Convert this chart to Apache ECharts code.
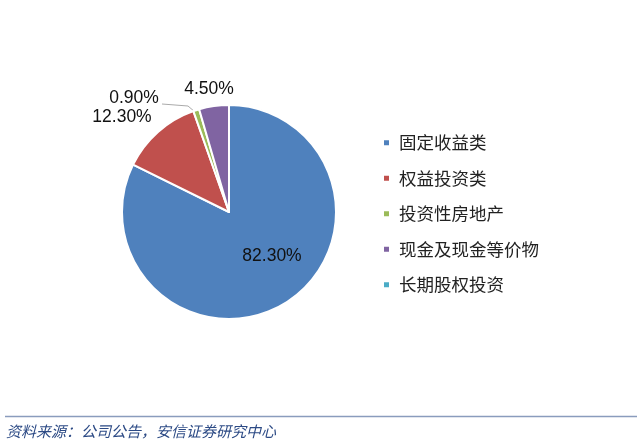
<!DOCTYPE html>
<html>
<head>
<meta charset="utf-8">
<script src="https://cdn.jsdelivr.net/npm/echarts@6/dist/echarts.min.js"></script>
<style>
  html, body { margin: 0; padding: 0; background: #fff; }
  #chart { width: 640px; height: 446px; }
</style>
</head>
<body>
<div id="chart"></div>
<script>
const categories = ['固定收益类', '权益投资类', '投资性房地产', '现金及现金等价物', '长期股权投资']
const shares = [82.3, 12.3, 0.9, 4.5, 0]
const colors = ['#4F81BD', '#C0504D', '#9BBB59', '#8064A2', '#4BACC6']
const sourceNote = '资料来源：公司公告，安信证券研究中心'

// where each percentage label sits (text centre)
const labelSpots = [[272, 256], [122, 117], [134, 98], [209, 89], null]

const chart = echarts.init(document.getElementById('chart'))

const pieData = categories.map((name, i) => {
  let item = { name: name, value: shares[i] }
  if (i === 4) {
    item.label = { show: false }
    item.labelLine = { show: false }
  } else if (i !== 2) {
    item.labelLine = { show: false }
  }
  return item
})

let option = {
  animation: false,
  color: colors,
  legend: {
    orient: 'vertical',
    left: 377,
    top: 129,
    itemWidth: 7,
    itemHeight: 7,
    itemGap: 18,
    icon: 'rect',
    textStyle: {
      fontFamily: 'Noto Sans CJK SC',
      fontSize: 17.5,
      color: '#222',
      padding: [0, 0, 0, 4]
    },
    data: categories
  },
  graphic: [
    {
      type: 'line',
      shape: { x1: 5, y1: 416.5, x2: 637, y2: 416.5 },
      style: { stroke: '#8a9cbd', lineWidth: 1.5 }
    },
    {
      type: 'text',
      left: 6,
      top: 424,
      style: {
        text: sourceNote,
        fontFamily: 'Noto Sans CJK SC',
        fontStyle: 'italic',
        fontSize: 15,
        fill: '#2c4a85'
      }
    }
  ],
  series: [
    {
      type: 'pie',
      center: [229, 212],
      radius: [0, 107],
      startAngle: 90,
      clockwise: true,
      avoidLabelOverlap: false,
      data: pieData,
      itemStyle: {
        borderColor: '#fff',
        borderWidth: 2
      },
      label: {
        formatter: p => p.value.toFixed(2) + '%',
        fontFamily: 'Liberation Sans',
        fontSize: 17.5,
        color: '#111'
      },
      labelLine: {
        length: 8,
        length2: 20,
        lineStyle: { color: '#aaa', width: 1 }
      },
      labelLayout: function (params) {
        const spot = labelSpots[params.dataIndex]
        if (!spot) return {}
        let out = { x: spot[0], y: spot[1], align: 'center', verticalAlign: 'middle', hideOverlap: false }
        if (params.dataIndex === 2) {
          out.labelLinePoints = [[195, 112], [188, 106], [162, 104]]
        }
        return out
      }
    }
  ]
}
chart.setOption(option)
</script>
</body>
</html>
